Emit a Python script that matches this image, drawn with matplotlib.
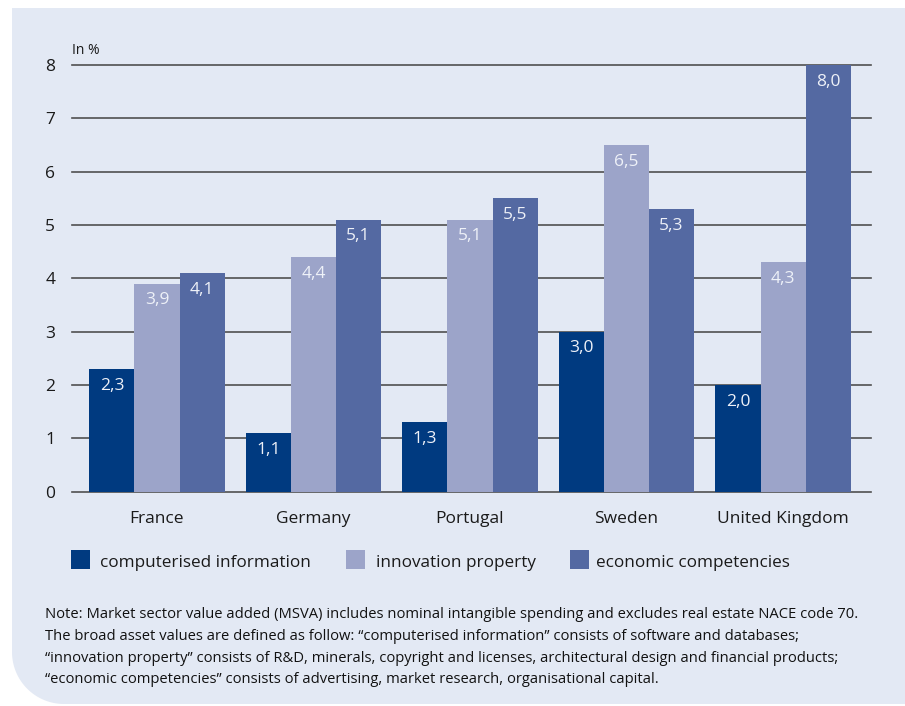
import numpy as np
import matplotlib
matplotlib.use("Agg")
import matplotlib.pyplot as plt
from matplotlib.patches import Polygon

plt.rcParams["font.family"] = ["Open Sans", "DejaVu Sans"]

countries = ["France", "Germany", "Portugal", "Sweden", "United Kingdom"]
computerised = [2.3, 1.1, 1.3, 3.0, 2.0]
innovation = [3.9, 4.4, 5.1, 6.5, 4.3]
economic = [4.1, 5.1, 5.5, 5.3, 8.0]
series_names = ["computerised information", "innovation property", "economic competencies"]
y_ticks = [0, 1, 2, 3, 4, 5, 6, 7, 8]

note_lines = [
    "Note: Market sector value added (MSVA) includes nominal intangible spending and excludes real estate NACE code 70.",
    "The broad asset values are defined as follow: \u201ccomputerised information\u201d consists of software and databases;",
    "\u201cinnovation property\u201d consists of R&D, minerals, copyright and licenses, architectural design and financial products;",
    "\u201ceconomic competencies\u201d consists of advertising, market research, organisational capital.",
]

colors = ["#003a80", "#9ca4c9", "#5469a2"]
bg = "#e3e9f4"
W, H = 905, 706

fig = plt.figure(figsize=(W / 100, H / 100), dpi=100)
fig.patch.set_facecolor("white")

# panel with a rounded lower-left corner (pixel coords -> figure fraction)
r = 52
x0, y0, x1, y1 = 12, 8, W + 5, 704
theta = np.linspace(np.pi, 1.5 * np.pi, 30)
arc = [(x0 + r + r * np.cos(t), y1 - r - r * np.sin(t)) for t in theta]
pts = [(x0, y0), (x1, y0), (x1, y1)] + arc[::-1]
pts = [(px / W, 1 - py / H) for px, py in pts]
fig.patches.append(Polygon(pts, closed=True, transform=fig.transFigure,
                           facecolor=bg, edgecolor="none", zorder=-5))

ax = fig.add_axes([72 / W, 1 - 491.7 / H, (871 - 72) / W, (491.7 - 65) / H])
ax.set_facecolor("none")
ax.set_zorder(2)

x = np.arange(len(countries))
bw = 0.288
for i, (vals, c) in enumerate(zip([computerised, innovation, economic], colors)):
    bars = ax.bar(x + (i - 1) * bw, vals, width=bw, color=c, zorder=3, label=series_names[i])
    for b, v in zip(bars, vals):
        ax.annotate(f"{v:.1f}".replace(".", ","), (b.get_x() + b.get_width() / 2, v),
                    xytext=(0, -12), textcoords="offset points", ha="center", va="center",
                    color="#eef1f8", fontsize=12.5, zorder=4)

for t in y_ticks:
    ax.axhline(t, color="#505050", linewidth=1.2, zorder=1, clip_on=False)

ax.set_xlim(-0.543, 4.562)
ax.set_ylim(0, 8)
ax.set_yticks(y_ticks)
ax.set_xticks(x)
ax.set_xticklabels(countries)
ax.tick_params(axis="both", length=0, labelsize=12.5, colors="#1a1a1a")
ax.tick_params(axis="y", pad=12)
ax.tick_params(axis="x", pad=14)
for s in ax.spines.values():
    s.set_visible(False)

fig.text(72 / W, 1 - 51 / H, "In %", fontsize=10, color="#1a1a1a", va="center")

# legend drawn as squares + labels
leg_items = [(71, 100), (346, 376), (570, 596)]
for (sx, tx), c, name in zip(leg_items, colors, series_names):
    fig.patches.append(plt.Rectangle((sx / W, 1 - 569 / H), 19 / W, 19 / H,
                                     transform=fig.transFigure, facecolor=c, edgecolor="none"))
    fig.text(tx / W, 1 - 563 / H, name, fontsize=12.3, color="#1a1a1a", va="center")

for k, line in enumerate(note_lines):
    fig.text(45 / W, 1 - (615 + k * 21.5) / H, line, fontsize=10.6, color="#111111", va="center")

fig.savefig("out.png", dpi=100, facecolor=fig.get_facecolor())
